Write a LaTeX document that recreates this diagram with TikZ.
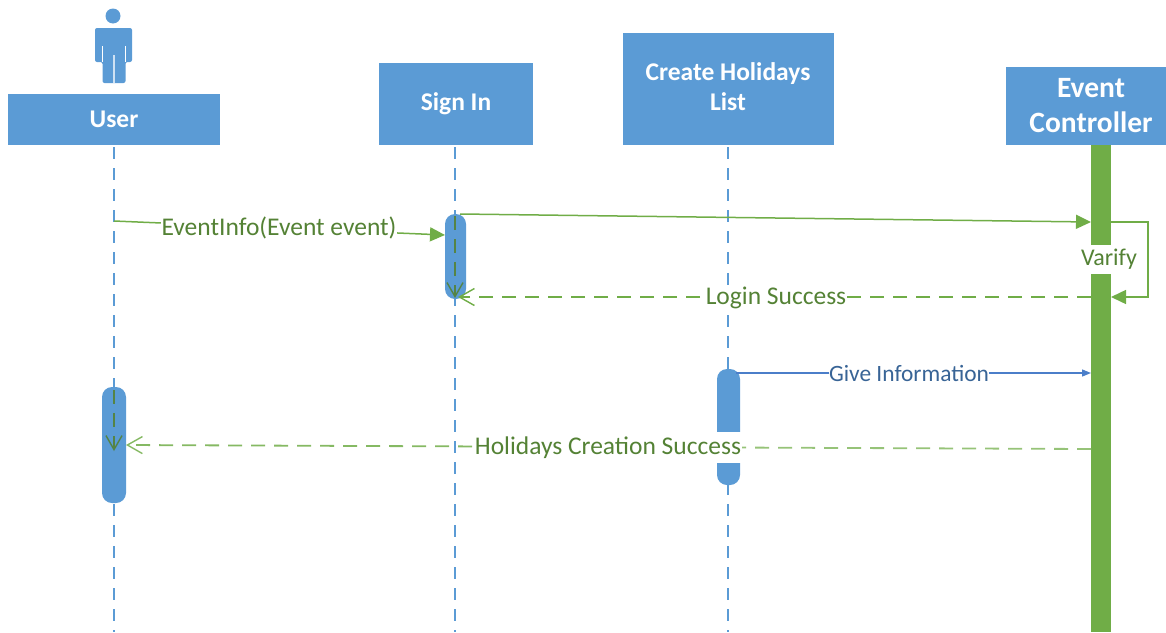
\documentclass[tikz,border=0pt]{standalone}
\usepackage{fontspec}
\setmainfont{Carlito}
\usetikzlibrary{arrows.meta}
\definecolor{hdr}{RGB}{91,155,213}
\definecolor{grn}{RGB}{112,173,71}
\definecolor{grnlt}{RGB}{150,195,120}
\definecolor{grntx}{RGB}{84,130,53}
\definecolor{blu}{RGB}{68,114,196}
\definecolor{blutx}{RGB}{56,100,150}
\tikzset{
  x=1pt,y=-1pt,
  head/.style={fill=hdr,draw=none,text=white,font=\fontsize{25.5}{31}\selectfont\bfseries,align=center,inner sep=0pt,minimum width=#1},
  life/.style={draw=hdr,line width=1.3pt,dash pattern=on 12pt off 9pt},
  actbar/.style={fill=hdr,draw=none,rounded corners=10pt,inner sep=0pt,minimum width=#1},
  solidmsg/.style={draw=grn,line width=1.5pt,-{Triangle[length=15pt,width=14pt,fill=grn]}},
  dashmsg/.style={draw=grn,line width=1.6pt,dash pattern=on 14pt off 9pt,-{Straight Barb[length=15pt,width=17pt,line width=1.4pt,fill=none]}},
  innermsg/.style={draw=grntx!90!hdr,line width=1.3pt,dash pattern=on 14pt off 9pt,-{Straight Barb[length=14pt,width=16pt,line width=1.4pt]}},
  msg/.style={fill=white,inner sep=0.5pt,text=grntx,font=\fontsize{#1}{#1}\selectfont},
}
\begin{document}
\begin{tikzpicture}
\useasboundingbox (0,0) rectangle (1166,632);
% actor
\fill[hdr] (113,16) circle (7.5);
\fill[hdr,rounded corners=2pt] (95,62) -- (95,28) -- (132,28) -- (132,62) -- (125.5,62) -- (125.5,83) -- (102.5,83) -- (102.5,62) -- cycle;
\draw[white,line width=0.7pt] (102.5,46) -- (102.5,62) (125.5,46) -- (125.5,62);
\draw[white!70!hdr,line width=1.6pt] (114,55) -- (114,83);
% headers
\node[head=212pt,minimum height=51pt] (user) at (114,119.5) {\raisebox{1pt}{User}};
\node[head=154pt,minimum height=82pt] (signin) at (456,104) {Sign In};
\node[fill=hdr,inner sep=0pt,minimum width=211pt,minimum height=112pt] (create) at (728.5,89) {};
\node[text=white,font=\fontsize{25.5}{30.5}\selectfont\bfseries,align=center,inner sep=0pt] (createlabel) at (728,86.5) {Create Holidays\\List};
\node[head=160pt,minimum height=78pt,font=\fontsize{29.5}{35}\selectfont\bfseries] (ctrl) at (1086,106) {\hspace{10pt}Event\\\hspace{10pt}Controller};
% lifelines
\coordinate (userend) at (114,632);
\coordinate (signend) at (455,632);
\coordinate (createend) at (728,632);
\draw[life] (114,147) -- (userend);
\draw[life] (455,147) -- (signend);
\draw[life] (728,147) -- (createend);
% activation bars
\node[actbar=24pt,minimum height=116pt] (auser) at (114,445) {};
\node[actbar=21pt,minimum height=85pt] (asign) at (455.5,256.5) {};
\node[actbar=23pt,minimum height=116pt] (acreate) at (728.5,427) {};
\node[fill=grn,draw=none,inner sep=0pt,minimum width=20pt,minimum height=487pt] (actrl) at (1101,388.5) {};
% messages
\coordinate (m1a) at (114,221);
\coordinate (m1b) at (445,235);
\coordinate (m2a) at (460,214);
\coordinate (m2b) at (1091,222);
\coordinate (loopa) at (1111,222);
\coordinate (loopc) at (1148,222);
\coordinate (loopd) at (1148,297);
\coordinate (loopb) at (1111,297);
\coordinate (m3a) at (1091,297);
\coordinate (m3b) at (458,297);
\coordinate (m4a) at (736,373);
\coordinate (m4b) at (1091,373);
\coordinate (m5a) at (1091,449);
\coordinate (m5m) at (610,447);
\coordinate (m5b) at (126,445);
\coordinate (s1a) at (455,216);
\coordinate (s1b) at (455,298);
\coordinate (s2a) at (114,390);
\coordinate (s2b) at (114,451);
\draw[solidmsg] (m1a) -- (m1b);
\draw[solidmsg] (m2a) -- (m2b);
\draw[solidmsg] (loopa) -- (loopc) -- (loopd) -- (loopb);
\draw[dashmsg] (m3a) -- (m3b);
\draw[draw=blu!70!hdr,line width=1.3pt,-{Triangle[length=9pt,width=7pt]}] (m4a) -- (m4b);
\draw[draw=grnlt,line width=1.8pt,dash pattern=on 14pt off 9pt] (m5a) -- (m5m);
\draw[dashmsg,line width=1.8pt,draw=grn!85!white] (m5m) -- (m5b);
\draw[innermsg] (s1a) -- (s1b);
\draw[innermsg] (s2a) -- (s2b);
% labels
\node[msg=25.5] (l1) at (279,228) {EventInfo(Event event)};
\node[msg=25.5] (l2) at (776,298) {Login Success};
\node[msg=23.4,text=blutx] (l3) at (909,373.5) {Give Information};
\node[msg=25.5,minimum height=31pt] (l4) at (608,447.5) {Holidays Creation Success};
\node[msg=24,minimum width=60pt,minimum height=29pt,inner sep=0pt] (l5) at (1109,259.5) {Varify};
\end{tikzpicture}
\end{document}
